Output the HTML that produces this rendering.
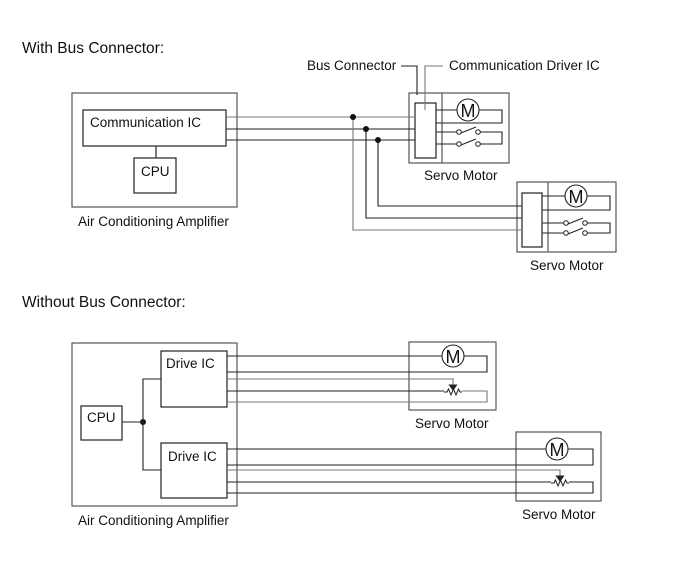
<!DOCTYPE html>
<html><head><meta charset="utf-8"><style>
body{margin:0;background:#fff}
svg{display:block}
text{font-family:"Liberation Sans",Arial,sans-serif;fill:#111}
</style></head><body>
<svg width="690" height="562" viewBox="0 0 690 562" xmlns="http://www.w3.org/2000/svg">
<defs>
<g id="sw" fill="none" stroke="#222" stroke-width="1">
<circle cx="0" cy="0" r="2.3" fill="#fff"/><circle cx="19" cy="0" r="2.3" fill="#fff"/>
<line x1="2" y1="1" x2="17" y2="-5"/>
</g>
<g id="res" fill="none" stroke="#222" stroke-width="1">
<polyline points="-9,0 -6,0 -4.5,-3 -2,3 0.5,-3 3,3 5.5,-3 7,0 9,0"/>
</g>
</defs>
<text x="22" y="53" font-size="15.5">With Bus Connector:</text>
<text x="22" y="307" font-size="15.5">Without Bus Connector:</text>

<g fill="none" stroke="#555" stroke-width="1.2">
<rect x="72" y="93" width="165" height="114"/>
<rect x="83" y="110" width="143" height="36" stroke="#222"/>
<rect x="134" y="158" width="42" height="35" stroke="#222"/>
<line x1="156" y1="146" x2="156" y2="158" stroke="#222"/>
<rect x="409" y="93" width="100" height="70"/>
<line x1="442" y1="93" x2="442" y2="163"/>
<rect x="415" y="103" width="21" height="55" stroke="#222"/>
<rect x="517" y="182" width="99" height="70"/>
<line x1="548" y1="182" x2="548" y2="252"/>
<rect x="522" y="193" width="20" height="54" stroke="#222"/>
</g>
<g fill="none" stroke="#222" stroke-width="1.1">
<line x1="226" y1="117" x2="415" y2="117" stroke="#777"/>
<line x1="226" y1="129" x2="415" y2="129"/>
<line x1="226" y1="140" x2="415" y2="140"/>
<polyline points="353,117 353,230 522,230" stroke="#777"/>
<polyline points="366,129 366,218 522,218"/>
<polyline points="378,140 378,206 522,206"/>
<polyline points="401,66 417,66 417,95"/>
<polyline points="443,66 425,66 425,110" stroke="#777"/>
<line x1="436" y1="110" x2="457" y2="110"/>
<circle cx="468" cy="110" r="11" fill="#fff"/>
<polyline points="479,110 502,110 502,123 436,123"/>
<line x1="436" y1="132" x2="457" y2="132"/>
<line x1="436" y1="144" x2="457" y2="144"/>
<polyline points="480,132 502,132 502,144 480,144"/>
<line x1="542" y1="196" x2="565" y2="196"/>
<circle cx="576" cy="196" r="11" fill="#fff"/>
<polyline points="587,196 610,196 610,210 542,210"/>
<line x1="542" y1="223" x2="564" y2="223"/>
<line x1="542" y1="233" x2="564" y2="233"/>
<polyline points="585,223 610,223 610,233 585,233"/>
</g>
<use href="#sw" x="459" y="132"/><use href="#sw" x="459" y="144"/>
<use href="#sw" x="566" y="223"/><use href="#sw" x="566" y="233"/>
<g fill="#111"><circle cx="353" cy="117" r="3"/><circle cx="366" cy="129" r="3"/><circle cx="378" cy="140" r="3"/><circle cx="143" cy="422" r="3"/></g>
<text x="90" y="127" font-size="13.5">Communication IC</text>
<text x="141" y="176" font-size="13.5">CPU</text>
<text x="78" y="226" font-size="13.5">Air Conditioning Amplifier</text>
<text x="307" y="70" font-size="13.5">Bus Connector</text>
<text x="449" y="70" font-size="13.5">Communication Driver IC</text>
<text x="424" y="180" font-size="13.5">Servo Motor</text>
<text x="530" y="270" font-size="13.5">Servo Motor</text>

<g fill="none" stroke="#555" stroke-width="1.2">
<rect x="72" y="343" width="165" height="163"/>
<rect x="161" y="351" width="66" height="56" stroke="#222"/>
<rect x="161" y="443" width="66" height="55" stroke="#222"/>
<rect x="81" y="406" width="41" height="34" stroke="#222"/>
<rect x="409" y="342" width="87" height="68"/>
<rect x="516" y="432" width="85" height="69"/>
</g>
<g fill="none" stroke="#222" stroke-width="1.1">
<line x1="122" y1="422" x2="143" y2="422"/>
<polyline points="161,379 143,379 143,470 161,470"/>
<line x1="227" y1="356" x2="442" y2="356"/>
<circle cx="453" cy="356" r="11" fill="#fff"/>
<polyline points="464,356 487,356 487,372 227,372"/>
<polyline points="227,379 453,379 453,386" stroke="#777"/>
<path d="M449.5,385 L456.5,385 L453,390Z" fill="#222"/>
<line x1="227" y1="391" x2="444" y2="391"/>
<polyline points="462,391 487,391 487,402 227,402" stroke="#777"/>
<line x1="227" y1="449" x2="546" y2="449"/>
<circle cx="557" cy="449" r="11" fill="#fff"/>
<polyline points="568,449 593,449 593,465 227,465"/>
<polyline points="227,470 560,470 560,477" stroke="#777"/>
<path d="M556.5,476 L563.5,476 L560,481Z" fill="#222"/>
<line x1="227" y1="482" x2="551" y2="482"/>
<polyline points="569,482 593,482 593,493 227,493"/>
</g>
<use href="#res" x="453" y="392"/>
<use href="#res" x="560" y="483"/>
<g font-size="18" text-anchor="middle"><text x="453" y="363">M</text><text x="557" y="456">M</text><text x="468" y="117">M</text><text x="576" y="203">M</text></g>
<text x="166" y="368" font-size="13.5">Drive IC</text>
<text x="168" y="461" font-size="13.5">Drive IC</text>
<text x="87" y="422" font-size="13.5">CPU</text>
<text x="78" y="525" font-size="13.5">Air Conditioning Amplifier</text>
<text x="415" y="428" font-size="13.5">Servo Motor</text>
<text x="522" y="519" font-size="13.5">Servo Motor</text>
</svg>
</body></html>
